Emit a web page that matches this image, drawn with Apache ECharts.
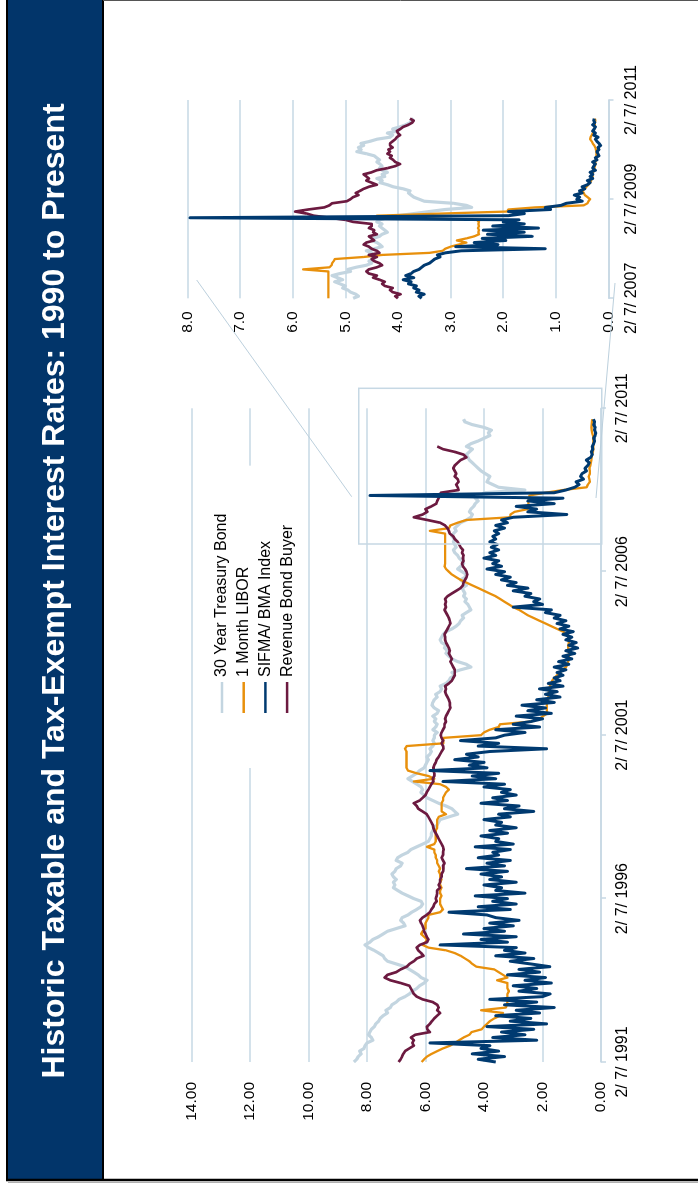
<!DOCTYPE html>
<html><head><meta charset="utf-8">
<script src="https://cdn.jsdelivr.net/npm/echarts/dist/echarts.min.js"></script>
<style>
html,body{margin:0;padding:0;background:#fff;overflow:hidden;width:698px;height:1183px;}
#wrap{position:absolute;left:0;top:0;width:1183px;height:698px;transform-origin:0 0;transform:translate(0px,1183px) rotate(-90deg);background:#fff;}
</style></head><body><div id="wrap"></div>
<script>
// ---------- categories & tick labels ----------
const mainCategories = [];
for (let y = 1991, m = 2; y < 2011 || (y === 2011 && m <= 2); ) {
  mainCategories.push(y + '-' + String(m).padStart(2, '0'));
  m++; if (m > 12) { m = 1; y++; }
}
const mainTickLabels = ['2/ 7/ 1991', '2/ 7/ 1996', '2/ 7/ 2001', '2/ 7/ 2006', '2/ 7/ 2011'];
const insetCategories = [];
for (let y = 2007, m = 2; y < 2011 || (y === 2011 && m <= 2); ) {
  insetCategories.push(y + '-' + String(m).padStart(2, '0') + '-07');
  if (!(y === 2011 && m === 2)) insetCategories.push(y + '-' + String(m).padStart(2, '0') + '-22');
  m++; if (m > 12) { m = 1; y++; }
}
const insetTickLabels = ['2/ 7/ 2007', '2/ 7/ 2009', '2/ 7/ 2011'];
const seriesNames = ['30 Year Treasury Bond', '1 Month LIBOR', 'SIFMA/ BMA Index', 'Revenue Bond Buyer'];

// ---------- main chart values (monthly, 1991-02 ...) ----------
const treasuryMain = [
8.45,8.35,8.3,8.2,8.25,8.1,8.07,8.0,7.8,7.85,7.95,7.9,
7.85,7.75,7.7,7.6,7.55,7.45,7.3,7.35,7.2,7.15,7.0,6.9,
6.7,6.55,6.45,6.3,6.2,6.05,5.95,6.15,6.25,6.4,6.55,6.7,
7.0,7.3,7.4,7.45,7.6,7.76,7.95,8.07,7.9,7.8,7.6,7.45,
7.3,7.0,6.7,6.75,6.85,6.8,6.6,6.47,6.3,6.16,6.1,6.15,
6.4,6.6,6.8,6.95,7.1,7.05,7.1,7.0,7.1,7.15,7.05,7.0,
6.85,6.8,7.0,6.95,6.8,6.6,6.5,6.3,6.1,5.9,5.85,5.8,
5.8,5.75,5.7,5.6,5.55,5.5,5.2,4.9,5.0,5.1,5.3,5.55,
5.75,5.95,6.05,6.16,6.1,6.15,6.3,6.45,6.6,6.45,6.3,6.2,
6.05,6.0,5.95,5.9,5.95,5.85,5.8,5.85,5.75,5.7,5.75,5.7,
5.7,5.6,5.75,5.65,5.6,5.7,5.65,5.75,5.6,5.55,5.7,5.78,
5.75,5.7,5.6,5.65,5.5,5.45,5.5,5.3,5.2,5.15,5.0,5.1,
4.8,4.45,4.6,4.9,5.1,5.2,5.3,5.25,5.35,5.3,5.45,5.5,
5.45,5.4,5.3,5.1,4.95,4.85,4.8,4.7,4.75,4.6,4.45,4.5,
4.55,4.65,4.6,4.7,4.65,4.7,4.75,4.6,4.7,4.8,4.65,4.6,
4.75,4.9,4.8,4.7,4.75,4.85,4.9,5.0,5.05,4.95,5.0,5.05,
5.0,5.1,5.05,4.95,5.0,4.9,4.8,4.6,4.45,4.4,4.5,4.45,
4.35,4.3,4.2,4.3,4.1,4.0,2.6,3.5,3.7,3.9,3.85,3.8,
3.95,4.1,4.2,4.3,4.4,4.5,4.55,4.6,4.5,4.4,4.6,4.45,
4.2,4.0,3.8,3.85,3.75,4.0,4.4,4.65,4.7];
const liborMain = [
6.13,6.05,5.95,5.79,5.6,5.4,5.16,5.0,4.85,4.7,4.5,4.42,
4.08,4.0,3.9,3.8,3.65,3.45,3.35,4.1,3.25,3.22,3.2,3.2,
3.2,3.2,3.15,3.2,3.2,3.2,3.55,3.2,3.35,3.5,3.65,4.26,
4.4,4.5,4.65,4.8,5.0,5.3,5.9,6.1,6.0,5.95,6.05,6.15,
6.1,6.0,6.0,6.0,5.95,5.9,5.9,5.5,5.4,5.45,5.5,5.5,
5.5,5.45,5.5,5.5,5.45,5.5,5.5,5.45,5.5,5.5,5.55,5.5,
5.55,5.6,5.6,5.65,5.65,5.7,5.7,5.95,5.7,5.65,5.65,5.65,
5.65,5.65,5.6,5.6,5.6,5.6,5.55,5.3,5.45,5.45,5.45,5.45,
5.4,5.4,5.35,5.3,5.2,5.3,5.5,6.4,5.7,5.9,6.3,6.6,
6.65,6.65,6.65,6.65,6.65,6.65,6.65,6.7,6.64,5.39,5.39,5.39,
4.1,4.0,3.8,3.5,3.45,2.4,2.1,1.98,1.83,1.85,1.86,1.85,
1.85,1.82,1.8,1.8,1.78,1.75,1.75,1.7,1.67,1.6,1.5,1.4,
1.3,1.2,1.15,1.12,1.12,1.1,1.1,1.1,1.12,1.12,1.1,1.12,
1.12,1.14,1.3,1.5,1.7,1.9,2.1,2.3,2.5,2.65,2.8,3.0,
3.15,3.3,3.45,3.6,3.8,4.0,4.2,4.4,4.6,4.8,4.95,5.1,
5.2,5.3,5.35,5.33,5.33,5.33,5.33,5.33,5.33,5.33,5.33,5.33,
5.33,5.33,5.33,5.85,5.2,5.15,4.9,4.6,3.1,3.1,2.95,2.5,
2.48,2.48,2.48,2.45,2.45,1.9,1.3,0.49,0.45,0.38,0.4,0.42,
0.38,0.38,0.4,0.36,0.35,0.33,0.32,0.3,0.28,0.26,0.26,0.27,
0.26,0.27,0.28,0.3,0.32,0.33,0.32,0.31,0.3];
const sifmaMain = [
3.6,4.2,3.3,4.4,3.5,4.1,3.8,5.85,2.2,3.7,2.6,3.4,
2.3,3.9,1.86,3.1,2.4,3.6,2.1,2.9,1.6,3.3,2.2,3.8,
2.0,1.74,2.8,2.2,3.0,1.7,2.6,1.9,3.2,2.1,2.8,1.75,
2.4,3.1,2.3,3.6,2.6,3.3,2.9,5.5,3.2,4.1,2.9,4.7,
3.3,4.0,3.0,3.8,2.8,3.6,3.9,5.2,3.1,4.2,2.9,3.7,
3.2,4.3,2.6,3.6,3.4,4.0,2.9,3.8,3.4,4.1,3.2,4.6,
3.3,3.9,3.1,4.2,3.5,3.7,3.1,4.3,3.0,3.6,3.5,4.1,
3.2,3.8,2.9,3.6,3.4,4.0,3.1,3.5,2.3,3.3,2.8,4.1,
3.2,3.7,2.9,3.4,3.1,4.0,3.3,5.4,3.6,4.4,3.5,5.85,
3.9,4.5,4.0,5.0,4.2,4.6,3.8,1.86,4.2,3.5,4.8,3.6,
3.3,2.6,3.6,2.1,3.0,2.4,2.0,2.9,1.7,2.5,1.9,2.7,
1.6,2.2,1.4,1.9,1.5,2.1,1.3,1.8,1.4,1.6,1.3,1.5,
1.2,1.6,1.1,1.45,1.0,1.3,0.9,1.2,0.8,1.1,0.85,1.2,
1.0,1.3,0.95,1.4,1.1,1.5,1.2,1.6,1.4,1.9,1.7,3.0,
2.0,2.3,2.1,2.6,2.4,3.0,2.5,3.2,2.9,3.4,3.1,3.6,
3.3,3.9,3.4,3.7,3.5,4.0,3.6,3.8,3.5,3.75,3.55,3.8,
3.6,3.7,3.5,3.65,3.3,3.6,3.2,3.4,3.0,1.17,2.5,2.2,
2.9,1.6,2.5,1.3,7.9,1.6,1.2,0.9,0.75,0.85,0.6,0.7,
0.65,0.5,0.55,0.45,0.4,0.5,0.35,0.3,0.33,0.28,0.3,0.25,
0.22,0.25,0.2,0.18,0.22,0.2,0.25,0.22,0.26];
const rbbMain = [
6.92,6.85,6.8,6.76,6.7,6.55,6.4,6.45,6.4,6.5,6.35,5.85,
5.94,5.95,5.85,5.78,5.7,5.6,5.5,5.6,5.55,5.6,5.75,6.1,
6.3,6.4,6.45,6.5,6.55,6.85,7.2,7.4,7.3,7.0,6.85,6.64,
6.55,6.4,6.3,6.07,6.15,6.25,6.3,6.19,5.95,5.9,5.96,6.0,
6.05,6.07,6.1,6.15,6.19,6.1,5.96,5.85,5.8,5.73,5.7,5.62,
5.65,5.62,5.6,5.6,5.5,5.55,5.5,5.5,5.45,5.45,5.4,5.39,
5.4,5.35,5.4,5.45,5.4,5.4,5.38,5.4,5.45,5.5,5.55,5.6,
5.65,5.7,5.73,5.75,5.8,5.85,5.9,5.96,6.1,6.25,6.3,6.4,
6.2,6.1,6.0,5.96,5.9,5.85,5.8,5.73,5.75,5.7,5.7,5.72,
5.73,5.7,5.65,5.62,5.55,5.5,5.45,5.39,5.4,5.45,5.4,5.45,
5.48,5.45,5.4,5.35,5.35,5.3,5.33,5.3,5.25,5.2,5.15,5.17,
5.17,5.2,5.25,5.3,5.33,5.3,5.33,5.2,5.1,5.05,5.0,5.0,
5.0,5.05,5.1,5.15,5.1,5.15,5.2,5.17,5.2,5.25,5.3,5.33,
5.33,5.35,5.3,5.25,5.2,5.15,5.17,5.2,5.25,5.3,5.35,5.3,
5.33,5.3,5.33,5.25,5.1,4.95,4.8,4.72,4.7,4.65,4.6,4.57,
4.6,4.65,4.72,4.75,4.7,4.72,4.7,4.75,4.72,4.8,4.85,4.9,
5.0,5.05,5.17,5.2,5.25,5.33,5.5,5.94,6.4,6.1,5.94,6.0,
5.8,5.63,5.6,5.55,5.5,5.48,4.87,4.9,4.95,4.87,4.9,5.0,
4.95,5.0,5.05,5.0,4.9,4.8,4.6,4.7,5.0,5.4,5.6];

// ---------- inset values (semi-monthly, 2007-02 ...) ----------
const treasuryInset = [
4.85,4.75,4.8,4.9,4.95,5.05,5.0,5.1,5.2,5.05,5.15,5.25,
5.1,4.9,4.95,4.8,4.6,4.5,4.55,4.45,4.47,4.55,4.5,4.6,
4.45,4.3,4.34,4.4,4.5,4.47,4.35,4.3,4.2,4.25,4.3,4.35,
4.3,4.4,4.35,4.2,4.0,3.7,3.4,3.1,2.6,2.7,2.95,3.5,
3.6,3.7,3.75,3.8,3.77,3.9,4.09,4.2,4.34,4.3,4.4,4.25,
4.3,4.2,4.3,4.35,4.3,4.34,4.4,4.35,4.4,4.45,4.6,4.78,
4.7,4.75,4.65,4.7,4.53,4.4,4.15,4.1,4.2,4.0,4.1,3.96,
3.85,3.77,3.75,3.7];
const liborInset = [
5.32,5.32,5.32,5.32,5.32,5.32,5.32,5.32,5.32,5.32,5.32,5.32,
5.32,5.32,5.8,5.3,5.26,5.25,5.22,5.2,4.65,4.3,3.4,3.15,
3.1,3.0,2.85,2.7,2.88,2.7,2.55,2.46,2.47,2.46,2.48,2.46,
2.47,2.46,2.5,3.9,4.4,3.2,1.93,1.9,1.4,0.47,0.4,0.38,
0.35,0.4,0.45,0.47,0.5,0.45,0.42,0.38,0.35,0.33,0.32,0.3,
0.3,0.29,0.28,0.27,0.26,0.25,0.25,0.24,0.24,0.23,0.23,0.23,
0.24,0.25,0.27,0.3,0.32,0.35,0.34,0.32,0.3,0.28,0.27,0.26,
0.26,0.26,0.25,0.26];
const sifmaInset = [
3.55,3.6,3.5,3.65,3.6,3.7,3.65,3.8,3.75,3.9,3.7,3.85,
3.75,3.7,3.6,3.55,3.5,3.4,3.35,3.3,3.2,3.25,3.1,2.8,
1.2,2.9,2.1,2.55,1.95,2.4,1.45,2.3,1.6,2.38,1.33,2.2,
1.6,2.0,1.7,7.95,1.9,1.6,1.9,1.1,1.2,0.9,0.8,0.5,
0.6,0.55,0.65,0.5,0.55,0.45,0.5,0.4,0.35,0.4,0.3,0.35,
0.3,0.35,0.25,0.3,0.28,0.25,0.3,0.22,0.25,0.18,0.2,0.22,
0.18,0.2,0.15,0.18,0.22,0.25,0.2,0.28,0.25,0.3,0.27,0.25,
0.3,0.26,0.28,0.27];
const rbbInset = [
4.0,4.05,3.95,4.1,4.15,4.1,4.25,4.3,4.25,4.35,4.47,4.4,
4.55,4.6,4.55,4.4,4.3,4.35,4.45,4.5,4.4,4.55,4.35,4.4,
4.5,4.55,4.65,4.6,4.45,4.5,4.55,4.4,4.47,4.45,4.55,4.5,
4.5,4.85,5.0,5.3,5.6,5.73,5.95,5.7,5.4,5.3,5.25,4.97,
4.9,4.85,4.75,4.8,4.72,4.65,4.55,4.4,4.5,4.6,4.55,4.6,
4.65,4.5,4.4,4.2,4.05,3.96,4.05,4.09,4.15,4.12,4.2,4.15,
4.18,4.1,4.15,4.15,4.1,4.05,4.02,3.96,4.0,4.02,3.95,3.9,
3.8,3.73,3.7,3.77];

// ---------- styling ----------
const FONT = "'Liberation Sans', Arial, Helvetica, sans-serif";
const GRID_COLOR = '#C6D8E4';
const COLORS = { t: '#C3D5E0', l: '#E8900C', s: '#003A70', r: '#6C1A40' };

const chart = echarts.init(document.getElementById('wrap'), null, { renderer: 'canvas' });

function mkSeries(name, data, color, width, xi, z) {
  return { name, type: 'line', data, xAxisIndex: xi, yAxisIndex: xi, color,
    showSymbol: false, symbol: 'none', smooth: false, z,
    lineStyle: { color, width, join: 'round' }, emphasis: { disabled: true } };
}

const option = {
  animation: false,
  backgroundColor: '#fff',
  textStyle: { fontFamily: FONT },
  grid: [
    { left: 121, right: 408.3, top: 191.5, bottom: 97 },
    { left: 884.7, right: 100, top: 187.3, bottom: 89.5 }
  ],
  xAxis: [
    { gridIndex: 0, type: 'category', data: mainCategories, boundaryGap: false,
      axisLine: { lineStyle: { color: GRID_COLOR, width: 1.5 } },
      axisTick: { show: true, interval: 59, length: 5, lineStyle: { color: GRID_COLOR, width: 1.5 } },
      axisLabel: { interval: 59, margin: 14, color: '#000', fontSize: 16, fontFamily: FONT,
        formatter: (v, i) => mainTickLabels[Math.round(i / 60)] },
      splitLine: { show: false } },
    { gridIndex: 1, type: 'category', data: insetCategories, boundaryGap: false,
      axisLine: { lineStyle: { color: GRID_COLOR, width: 1.5 } },
      axisTick: { show: true, interval: 47, length: 5, lineStyle: { color: GRID_COLOR, width: 1.5 } },
      axisLabel: { interval: 47, margin: 15, color: '#000', fontSize: 16, fontFamily: FONT,
        formatter: (v, i) => insetTickLabels[Math.round(i / 48)] },
      splitLine: { show: false } }
  ],
  yAxis: [
    { gridIndex: 0, type: 'value', min: 0, max: 14, interval: 2,
      axisLine: { show: false }, axisTick: { show: false },
      axisLabel: { margin: 20, color: '#000', fontSize: 15.5, fontFamily: FONT, formatter: v => v.toFixed(2) },
      splitLine: { lineStyle: { color: GRID_COLOR, width: 1.5 } } },
    { gridIndex: 1, type: 'value', min: 0, max: 8, interval: 1,
      axisLine: { show: false }, axisTick: { show: false },
      axisLabel: { margin: 13, color: '#000', fontSize: 15.5, fontFamily: FONT, formatter: v => v.toFixed(1) },
      splitLine: { lineStyle: { color: GRID_COLOR, width: 1.5 } } }
  ],
  legend: {
    orient: 'vertical', left: 415, top: 204, padding: [10, 48, 10, 55],
    itemGap: 5.7, itemWidth: 31, itemHeight: 2.5, icon: 'rect',
    backgroundColor: '#fff', selectedMode: false,
    textStyle: { fontSize: 16, lineHeight: 16, color: '#000', fontFamily: FONT },
    data: seriesNames
  },
  series: [
    mkSeries(seriesNames[0], treasuryMain, COLORS.t, 3.2, 0, 2),
    mkSeries(seriesNames[1], liborMain, COLORS.l, 2.3, 0, 3),
    mkSeries(seriesNames[3], rbbMain, COLORS.r, 2.7, 0, 4),
    mkSeries(seriesNames[2], sifmaMain, COLORS.s, 3, 0, 5),
    mkSeries(seriesNames[0], treasuryInset, COLORS.t, 3.2, 1, 2),
    mkSeries(seriesNames[1], liborInset, COLORS.l, 2.3, 1, 3),
    mkSeries(seriesNames[3], rbbInset, COLORS.r, 2.7, 1, 4),
    mkSeries(seriesNames[2], sifmaInset, COLORS.s, 3, 1, 5)
  ],
  graphic: [
    // frame & title band
    { type: 'rect', z: 100, shape: { x: 3, y: 7, width: 1180, height: 96 }, style: { fill: '#02356A' } },
    { type: 'line', z: 101, shape: { x1: 3, y1: 103, x2: 1183, y2: 103 }, style: { stroke: '#000', lineWidth: 2 } },
    { type: 'line', z: 101, shape: { x1: 3, y1: 7, x2: 1183, y2: 7 }, style: { stroke: '#000', lineWidth: 2 } },
    { type: 'line', z: 101, shape: { x1: 3, y1: 6, x2: 3, y2: 698 }, style: { stroke: '#000', lineWidth: 2.5 } },
    { type: 'line', z: 101, shape: { x1: 0.5, y1: 8, x2: 0.5, y2: 698 }, style: { stroke: '#B0B0B0', lineWidth: 1 } },
    { type: 'line', z: 101, shape: { x1: 1182.5, y1: 103, x2: 1182.5, y2: 698 }, style: { stroke: '#555', lineWidth: 1 } },
    { type: 'text', z: 102, x: 592, y: 55,
      style: { text: 'Historic Taxable and Tax-Exempt Interest Rates: 1990 to Present',
        fill: '#fff', font: "bold 32px 'Liberation Sans', Arial, sans-serif", textAlign: 'center', textVerticalAlign: 'middle' } },
    // zoom box & connectors
    { type: 'rect', z: 50, shape: { x: 639, y: 358.7, width: 155.7, height: 243 },
      style: { fill: 'none', stroke: '#C6D8E4', lineWidth: 1.5 } },
    { type: 'line', z: 50, shape: { x1: 903, y1: 196.7, x2: 686.3, y2: 351.7 }, style: { stroke: '#BCD0DD', lineWidth: 1 } },
    { type: 'line', z: 50, shape: { x1: 900, y1: 615, x2: 685, y2: 596 }, style: { stroke: '#BCD0DD', lineWidth: 1 } }
  ]
};
chart.setOption(option);
</script></body></html>
